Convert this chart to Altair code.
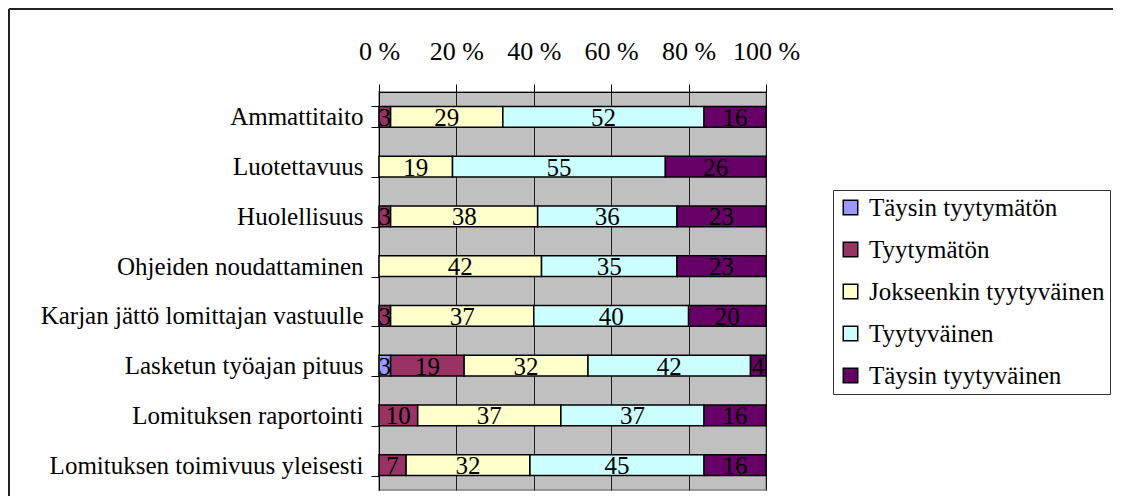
import altair as alt
import pandas as pd

categories = [
    "Ammattitaito",
    "Luotettavuus",
    "Huolellisuus",
    "Ohjeiden noudattaminen",
    "Karjan jättö lomittajan vastuulle",
    "Lasketun työajan pituus",
    "Lomituksen raportointi",
    "Lomituksen toimivuus yleisesti",
]
series = [
    "Täysin tyytymätön",
    "Tyytymätön",
    "Jokseenkin tyytyväinen",
    "Tyytyväinen",
    "Täysin tyytyväinen",
]
colors = ["#9999FF", "#993366", "#FFFFCC", "#CCFFFF", "#660066"]

taysin_tyytymaton = [0, 0, 0, 0, 0, 3, 0, 0]
tyytymaton = [3, 0, 3, 0, 3, 19, 10, 7]
jokseenkin = [29, 19, 38, 42, 37, 32, 37, 32]
tyytyvainen = [52, 55, 36, 35, 40, 42, 37, 45]
taysin_tyytyvainen = [16, 26, 23, 23, 20, 4, 16, 16]

all_series = [taysin_tyytymaton, tyytymaton, jokseenkin, tyytyvainen, taysin_tyytyvainen]

rows = []
for si, (name, vals) in enumerate(zip(series, all_series)):
    for ci, cat in enumerate(categories):
        rows.append({"cat": cat, "series": name, "order": si, "value": vals[ci]})
df = pd.DataFrame(rows)

FONT = "Liberation Serif, Times New Roman, DejaVu Serif, serif"
FS = 25
W, H = 387, 398
PAD_L, PAD_T = 371, 84

y_enc = alt.Y(
    "cat:N",
    sort=categories,
    scale=alt.Scale(paddingInner=0.58, paddingOuter=0.29),
    axis=alt.Axis(
        title=None,
        labelFont=FONT,
        labelFontSize=FS,
        labelColor="black",
        labelPadding=8,
        tickSize=8,
        tickColor="black",
        tickBand="extent",
        domainColor="black",
        grid=False,
        labelLimit=400,
        labelOverlap=False,
    ),
)

base = alt.Chart(df).transform_filter("datum.value > 0")

bars = base.mark_bar(stroke="black", strokeWidth=1.5).encode(
    x=alt.X(
        "value:Q",
        stack="zero",
        scale=alt.Scale(domain=[0, 100], nice=False),
        axis=alt.Axis(
            orient="top",
            title=None,
            values=[0, 20, 40, 60, 80, 100],
            labelExpr="datum.value + ' %'",
            labelFont=FONT,
            labelFontSize=26,
            labelColor="black",
            labelPadding=20,
            labelOverlap=False,
            labelFlush=False,
            tickSize=8,
            tickColor="black",
            domainColor="black",
            grid=True,
            gridColor="black",
            gridWidth=1,
            gridOpacity=0.85,
        ),
    ),
    y=y_enc,
    color=alt.Color(
        "series:N",
        sort=series,
        scale=alt.Scale(domain=series, range=colors),
        legend=alt.Legend(
            title=None,
            orient="none",
            legendX=454,
            legendY=98,
            labelFont=FONT,
            labelFontSize=FS,
            labelColor="black",
            symbolType="square",
            symbolSize=210,
            symbolStrokeColor="black",
            symbolStrokeWidth=1.5,
            symbolOpacity=1,
            rowPadding=16,
            labelOffset=6,
            padding=5,
            strokeColor="#333333",
            fillColor="white",
            labelLimit=400,
        ),
    ),
    order=alt.Order("order:Q"),
)

labels = base.transform_window(
    cum="sum(value)", sort=[alt.SortField("order")], groupby=["cat"]
).transform_calculate(mid="datum.cum - datum.value / 2").mark_text(
    font=FONT, fontSize=FS, color="black", baseline="middle", align="center", dy=1
).encode(
    x=alt.X("mid:Q"),
    y=alt.Y("cat:N", sort=categories),
    text=alt.Text("value:Q"),
)

frame_top = alt.Chart(alt.Data(values=[{}])).mark_rule(color="#222222", strokeWidth=2).encode(
    x=alt.value(-PAD_L + 1), x2=alt.value(W + 400), y=alt.value(-PAD_T + 1)
)
frame_left = alt.Chart(alt.Data(values=[{}])).mark_rule(color="#222222", strokeWidth=2).encode(
    x=alt.value(-PAD_L + 1), y=alt.value(-PAD_T + 1), y2=alt.value(H + 40)
)

chart = alt.layer(bars, labels, frame_top, frame_left).properties(
    width=W,
    height=H,
    padding={"left": PAD_L, "top": PAD_T, "right": 1121 - 16 - PAD_L - W, "bottom": 504 - 16 - PAD_T - H},
    autosize=alt.AutoSizeParams(type="none"),
    background="white",
).configure_view(
    fill="#C0C0C0", stroke="#808080", strokeWidth=1.5
)

chart.save("out.html", embed_options={"renderer": "svg", "actions": False})
